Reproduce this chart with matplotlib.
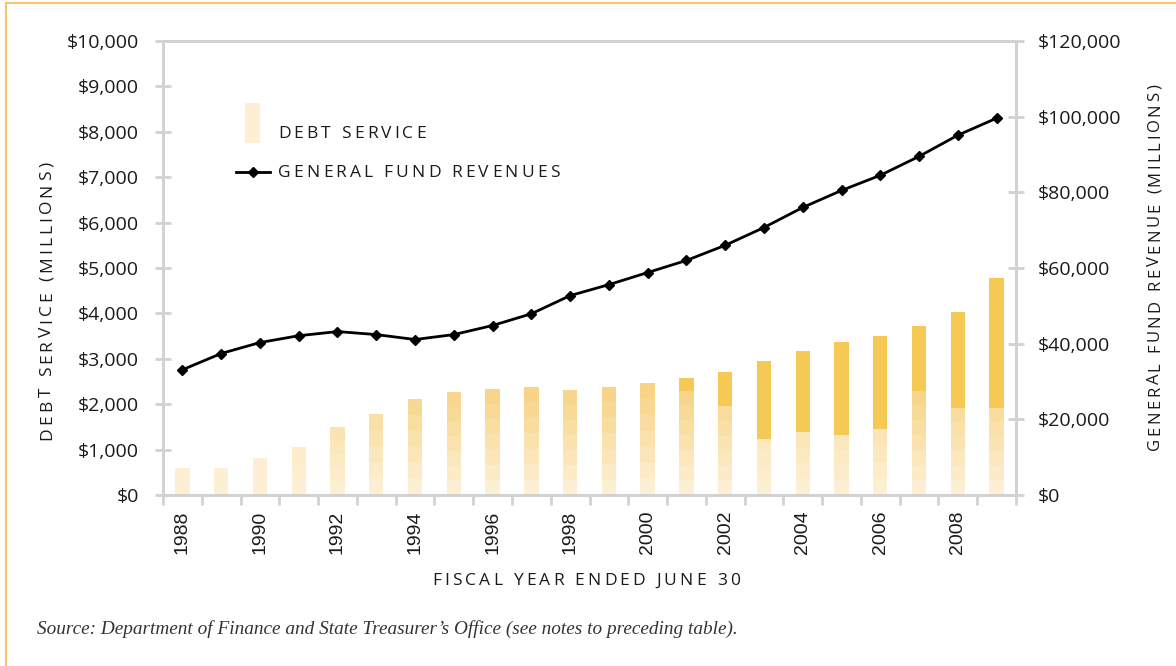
import matplotlib
matplotlib.use("Agg")
import matplotlib.pyplot as plt
import numpy as np
from matplotlib.lines import Line2D
from matplotlib.patches import Rectangle
from matplotlib.colors import to_rgb
from matplotlib.font_manager import FontProperties

# ---- data (millions of dollars) ----
years = list(range(1988, 2010))
debt_service_total = [600, 600, 820, 1060, 1500, 1790, 2120, 2270, 2340, 2380, 2320,
                      2380, 2470, 2580, 2720, 2960, 3180, 3360, 3510, 3730, 4040, 4790]
# portion of each year's debt service from recently issued bonds (darker top segment)
debt_service_recent = [0, 0, 0, 0, 0, 0, 0, 0, 0, 0, 0,
                       0, 0, 280, 760, 1720, 1790, 2040, 2050, 1430, 2120, 2870]
general_fund_revenues = [33100, 37400, 40300, 42100, 43200, 42400, 41100, 42400, 44800,
                         47900, 52700, 55600, 58800, 62000, 66000, 70700, 76000, 80500,
                         84500, 89500, 95100, 99600]
year_labels = [str(y) for y in years[::2]]

# ---- style ----
GRID = "#d2d2d2"
LIGHT = "#fdefd3"
MID = "#f7d486"
DARK = "#f6c955"
TEXT = "#1a1a1a"
BAND = 330  # height of each shaded band in the older-debt portion
W_PX, H_PX = 1176, 666

fig = plt.figure(figsize=(W_PX / 100, H_PX / 100), dpi=100)
ax = fig.add_axes([163 / W_PX, 1 - 495 / H_PX, (1016 - 163) / W_PX, (495 - 41) / H_PX])
ax2 = ax.twinx()

x = np.arange(len(years))
w = 0.37
c_light = np.array(to_rgb(LIGHT))
c_mid = np.array(to_rgb(MID))
for i, (tot, rec) in enumerate(zip(debt_service_total, debt_service_recent)):
    base = tot - rec
    n = max(1, int(round(base / BAND)))
    h = base / n
    for k in range(n):
        t = 0 if n == 1 else k / (n - 1)
        frac = min(1.0, max(0.0, (base - 900) / 1500.0)) * t
        col = c_light + (c_mid - c_light) * frac
        ax.bar(x[i], h, bottom=k * h, width=w, color=col, linewidth=0,
               antialiased=False, zorder=2)
    if rec > 0:
        ax.bar(x[i], rec, bottom=base, width=w, color=DARK, linewidth=0,
               antialiased=False, zorder=2)

ax2.plot(x, general_fund_revenues, color="black", lw=2.0, marker="D", ms=5,
         markerfacecolor="black", markeredgecolor="black", zorder=5)

ax.set_xlim(-0.5, len(years) - 0.5)
ax.set_ylim(0, 10000)
ax2.set_ylim(0, 120000)

tick_font = dict(family="Open Sans", size=14)
ax.set_yticks(np.arange(0, 10001, 1000))
ax.set_yticklabels([f"${v:,}" for v in range(0, 10001, 1000)], **tick_font, color=TEXT)
ax2.set_yticks(np.arange(0, 120001, 20000))
ax2.set_yticklabels([f"${v:,}" for v in range(0, 120001, 20000)], **tick_font, color=TEXT)

ax.set_xticks(x[::2])
ax.set_xticklabels(year_labels, rotation=90, family="Liberation Sans", size=14, color=TEXT)
ax.set_xticks(np.arange(-0.5, len(years) + 0.5, 1), minor=True)
ax.tick_params(axis="x", which="major", length=0, pad=11)
ax.tick_params(axis="x", which="minor", length=7, width=2, color=GRID, direction="out")
ax.tick_params(axis="y", length=11, width=2, color=GRID, direction="inout", pad=12)
ax2.tick_params(axis="y", length=11, width=2, color=GRID, direction="inout", pad=10)

for a in (ax, ax2):
    for s in a.spines.values():
        s.set_color(GRID)
        s.set_linewidth(2)


def spaced_text(x0, y0, s, size, tracking, rotation=0, ha="left",
                family="Open Sans", color=TEXT):
    """Draw letter-spaced text at figure pixel coordinates (y measured from top)."""
    renderer = fig.canvas.get_renderer()
    fp = FontProperties(family=family, size=size)
    widths = []
    for ch in s:
        probe = "n" if ch == " " else ch
        wpx, _, _ = renderer.get_text_width_height_descent(probe, fp, ismath=False)
        widths.append(wpx * (0.45 if ch == " " else 1.0))
    total = sum(widths) + tracking * (len(s) - 1)
    pos = {"left": 0, "center": -total / 2, "right": -total}[ha]
    ang = np.deg2rad(rotation)
    for ch, wpx in zip(s, widths):
        px = x0 + pos * np.cos(ang)
        py = (H_PX - y0) + pos * np.sin(ang)
        fig.text(px / W_PX, py / H_PX, ch, fontproperties=fp, rotation=rotation,
                 ha="left", va="baseline", color=color, rotation_mode="anchor")
        pos += wpx + tracking


# axis titles
spaced_text(586, 585, "FISCAL YEAR ENDED JUNE 30", 12.5, 3.1, ha="center")
spaced_text(51, 301, "DEBT SERVICE (MILLIONS)", 12.5, 3.1, rotation=90, ha="center")
spaced_text(1159, 267, "GENERAL FUND REVENUE (MILLIONS)", 12, 2.5, rotation=90, ha="center")

# legend
fig.patches.append(Rectangle((245 / W_PX, 1 - 143 / H_PX), 15 / W_PX, 40 / H_PX,
                             transform=fig.transFigure, color=LIGHT, lw=0))
spaced_text(278, 138, "DEBT SERVICE", 12.5, 3.1)
fig.lines.append(Line2D([236 / W_PX, 270 / W_PX], [1 - 172 / H_PX, 1 - 172 / H_PX],
                        transform=fig.transFigure, color="black", lw=2))
fig.lines.append(Line2D([253 / W_PX], [1 - 172 / H_PX], transform=fig.transFigure,
                        marker="D", ms=5, color="black", lw=0))
spaced_text(278, 177, "GENERAL FUND REVENUES", 12.5, 3.1)

# source note
fig.text(37 / W_PX, 1 - 634 / H_PX,
         "Source: Department of Finance and State Treasurer\u2019s Office (see notes to preceding table).",
         family="Liberation Serif", style="italic", size=13.9, color="#333333")

# page frame
fig.lines.append(Line2D([6 / W_PX, 1], [1 - 3 / H_PX, 1 - 3 / H_PX], transform=fig.transFigure,
                        color="#f5c86e", lw=1.5))
fig.lines.append(Line2D([6 / W_PX, 6 / W_PX], [0, 1 - 3 / H_PX], transform=fig.transFigure,
                        color="#f5c86e", lw=1.5))

fig.savefig("out.png", dpi=100)
